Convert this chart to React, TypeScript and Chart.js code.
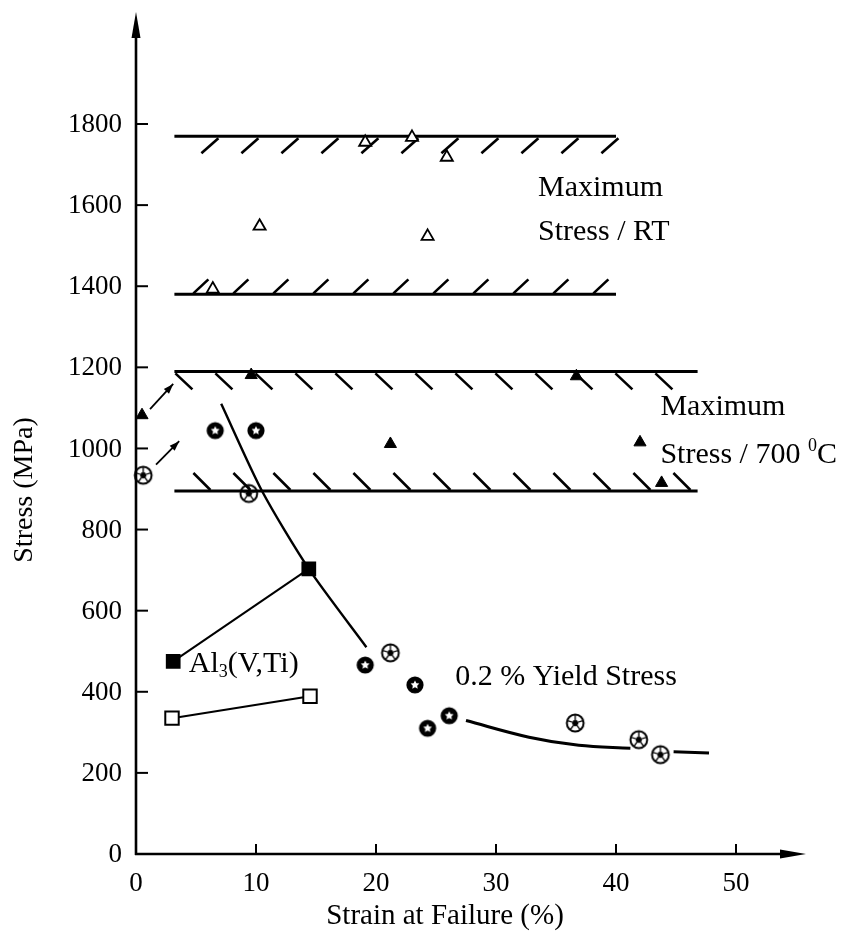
import React, { useEffect, useRef } from "react";
import { Chart, registerables } from "chart.js";
Chart.register(...registerables);

// ---------- data ----------
const xTickValues = [0, 10, 20, 30, 40, 50];
const yTickValues = [0, 200, 400, 600, 800, 1000, 1200, 1400, 1600, 1800];

// Maximum stress at RT (open triangles)
const rtMaxX = [6.4, 10.3, 19.1, 23.0, 25.9, 24.3];
const rtMaxY = [1393, 1548, 1755, 1767, 1718, 1523];

// Maximum stress at 700 C (filled triangles)
const hotMaxX = [0.5, 9.6, 21.2, 36.7, 42.0, 43.8];
const hotMaxY = [1082, 1181, 1011, 1178, 1015, 915];

// 0.2 % yield stress, bold rings
const yieldRingX = [6.6, 10.0, 19.1, 23.25, 24.3, 26.1];
const yieldRingY = [1044, 1044, 466, 417, 310, 341];

// 0.2 % yield stress, circled stars
const yieldStarX = [0.6, 9.4, 21.2, 36.6, 41.9, 43.7];
const yieldStarY = [934, 889, 496, 323, 282, 245];

// Al3(V,Ti)
const al3FilledX = [3.1, 14.4];
const al3FilledY = [475, 703];
const al3OpenX = [3.0, 14.5];
const al3OpenY = [335, 389];

// yield stress trend curves
const yieldCurveX = [7.1, 10.5, 14.4, 19.2];
const yieldCurveY = [1110, 895, 703, 510];
const yieldTailX = [27.5, 32.75, 36.9, 41.2];
const yieldTailY = [329, 288, 268, 261];
const yieldTail2X = [44.8, 47.75];
const yieldTail2Y = [252, 249];

// scatter bands (hatched boundary lines)
const bandRTY = [1770, 1380];
const bandRTX = [3.2, 40];
const band700Y = [1190, 895];
const band700X = [3.2, 46.8];

// arrows near the y axis
const arrowFromX = [1.17, 1.67];
const arrowFromY = [1097, 960];
const arrowToX = [3.1, 3.6];
const arrowToY = [1159, 1018];

const pts = (xs: number[], ys: number[]) => xs.map((x, i) => ({ x, y: ys[i] }));

const SERIF = '"Liberation Serif", "Times New Roman", serif';

function makeRing(): HTMLCanvasElement {
  const c = document.createElement("canvas");
  c.width = 20; c.height = 20;
  const g = c.getContext("2d")!;
  g.fillStyle = "#000";
  g.beginPath(); g.arc(10, 10, 8.6, 0, Math.PI * 2); g.fill();
  g.fillStyle = "#fff";
  g.beginPath();
  for (let i = 0; i < 10; i++) {
    const r = i % 2 === 0 ? 4.6 : 2.3;
    const a = -Math.PI / 2 + (i * Math.PI) / 5;
    const px = 10 + r * Math.cos(a), py = 10 + r * Math.sin(a);
    if (i === 0) g.moveTo(px, py); else g.lineTo(px, py);
  }
  g.closePath(); g.fill();
  return c;
}

function makeStar(): HTMLCanvasElement {
  const c = document.createElement("canvas");
  c.width = 22; c.height = 22;
  const g = c.getContext("2d")!;
  g.strokeStyle = "#000"; g.fillStyle = "#000";
  g.lineWidth = 2;
  g.beginPath(); g.arc(11, 11, 8.4, 0, Math.PI * 2); g.stroke();
  g.lineWidth = 1.3;
  for (let i = 0; i < 5; i++) {
    const a = -Math.PI / 2 + (i * 2 * Math.PI) / 5;
    g.beginPath(); g.moveTo(11, 11); g.lineTo(11 + 8 * Math.cos(a), 11 + 8 * Math.sin(a)); g.stroke();
  }
  g.beginPath();
  for (let i = 0; i < 5; i++) {
    const a = -Math.PI / 2 + Math.PI / 5 + (i * 2 * Math.PI) / 5;
    const px = 11 + 3.4 * Math.cos(a), py = 11 + 3.4 * Math.sin(a);
    if (i === 0) g.moveTo(px, py); else g.lineTo(px, py);
  }
  g.closePath(); g.fill();
  return c;
}

function arrowHead(ctx: CanvasRenderingContext2D, x0: number, y0: number, x1: number, y1: number, len: number, half: number) {
  const a = Math.atan2(y1 - y0, x1 - x0);
  ctx.beginPath();
  ctx.moveTo(x1, y1);
  ctx.lineTo(x1 - len * Math.cos(a) + half * Math.sin(a), y1 - len * Math.sin(a) - half * Math.cos(a));
  ctx.lineTo(x1 - len * Math.cos(a) - half * Math.sin(a), y1 - len * Math.sin(a) + half * Math.cos(a));
  ctx.closePath();
  ctx.fill();
}

const decor = {
  id: "decor",
  beforeDatasetsDraw(chart: any) {
    const { ctx, scales } = chart;
    const xs = scales.x, ys = scales.y;
    ctx.save();
    ctx.strokeStyle = "#000";
    ctx.lineWidth = 2.6;
    const hatch = (xStartVal: number, xEndVal: number, yVal: number, off: number, dx0: number, dy0: number, dx1: number, dy1: number, endPad: number) => {
      const x0 = xs.getPixelForValue(xStartVal), x1 = xs.getPixelForValue(xEndVal);
      const yp = ys.getPixelForValue(yVal);
      for (let hx = x0 + off; hx <= x1 - endPad; hx += 40) {
        ctx.beginPath();
        ctx.moveTo(hx + dx0, yp + dy0);
        ctx.lineTo(hx + dx1, yp + dy1);
        ctx.stroke();
      }
    };
    // RT band: "/" below top line, "/" above bottom line
    hatch(bandRTX[0], bandRTX[1], bandRTY[0], 44, 0, 2, -17, 17, -6);
    hatch(bandRTX[0], bandRTX[1], bandRTY[1], 19, 0, -1, 15, -15, 15);
    // 700 C band: "\" below top line, "\" above bottom line
    hatch(band700X[0], band700X[1], band700Y[0], 1, 0, 2, 17, 18, 30);
    hatch(band700X[0], band700X[1], band700Y[1], 19, 0, -18, 17, -1, 10);
    ctx.restore();
  },
  afterDraw(chart: any) {
    const { ctx, scales } = chart;
    const xs = scales.x, ys = scales.y;
    const ox = xs.getPixelForValue(0), oy = ys.getPixelForValue(0);
    ctx.save();
    ctx.strokeStyle = "#000";
    ctx.fillStyle = "#000";
    // axes
    ctx.lineWidth = 2.6;
    ctx.beginPath();
    ctx.moveTo(ox, oy + 1); ctx.lineTo(ox, 30);
    ctx.moveTo(ox - 1, oy); ctx.lineTo(790, oy);
    ctx.stroke();
    arrowHead(ctx, ox, 60, ox, 12, 26, 4.5);
    arrowHead(ctx, 760, oy, 806, oy, 26, 4.5);
    // ticks (inward)
    ctx.lineWidth = 2;
    for (const v of yTickValues) {
      if (v === 0) continue;
      const p = ys.getPixelForValue(v);
      ctx.beginPath(); ctx.moveTo(ox, p); ctx.lineTo(ox + 12, p); ctx.stroke();
    }
    for (const v of xTickValues) {
      if (v === 0) continue;
      const p = xs.getPixelForValue(v);
      ctx.beginPath(); ctx.moveTo(p, oy); ctx.lineTo(p, oy - 10); ctx.stroke();
    }
    // tick labels
    ctx.font = `27px ${SERIF}`;
    ctx.textAlign = "right";
    ctx.textBaseline = "middle";
    for (const v of yTickValues) {
      ctx.fillText(String(v), ox - 14, ys.getPixelForValue(v) + 1);
    }
    ctx.textAlign = "center";
    ctx.textBaseline = "top";
    for (const v of xTickValues) {
      ctx.fillText(String(v), xs.getPixelForValue(v), oy + 16);
    }
    // axis titles
    ctx.font = `29px ${SERIF}`;
    ctx.textBaseline = "middle";
    ctx.fillText("Strain at Failure (%)", 445, 916);
    ctx.save();
    ctx.translate(25, 490);
    ctx.rotate(-Math.PI / 2);
    ctx.font = `28px ${SERIF}`;
    ctx.fillText("Stress (MPa)", 0, 0);
    ctx.restore();

    // arrows near y axis
    ctx.lineWidth = 1.8;
    for (let i = 0; i < arrowFromX.length; i++) {
      const ax0 = xs.getPixelForValue(arrowFromX[i]), ay0 = ys.getPixelForValue(arrowFromY[i]);
      const ax1 = xs.getPixelForValue(arrowToX[i]), ay1 = ys.getPixelForValue(arrowToY[i]);
      ctx.beginPath(); ctx.moveTo(ax0, ay0); ctx.lineTo(ax1, ay1); ctx.stroke();
      arrowHead(ctx, ax0, ay0, ax1, ay1, 10, 3.5);
    }

    // annotations
    const F = 30;
    ctx.font = `${F}px ${SERIF}`;
    ctx.textAlign = "left";
    ctx.textBaseline = "middle";
    const at = (xv: number, yv: number) => [xs.getPixelForValue(xv), ys.getPixelForValue(yv)];
    let [tx, ty] = at(33.5, 1642);
    ctx.fillText("Maximum", tx, ty);
    [tx, ty] = at(33.5, 1534);
    ctx.fillText("Stress / RT", tx, ty);
    [tx, ty] = at(43.7, 1103);
    ctx.fillText("Maximum", tx, ty);
    [tx, ty] = at(43.7, 984);
    const s1 = "Stress / 700 ";
    ctx.fillText(s1, tx, ty);
    let w = ctx.measureText(s1).width;
    ctx.font = `${F * 0.6}px ${SERIF}`;
    ctx.fillText("0", tx + w, ty - 9);
    const w0 = ctx.measureText("0").width;
    ctx.font = `${F}px ${SERIF}`;
    ctx.fillText("C", tx + w + w0, ty);
    [tx, ty] = at(4.4, 468);
    ctx.fillText("Al", tx, ty);
    w = ctx.measureText("Al").width;
    ctx.font = `${F * 0.6}px ${SERIF}`;
    ctx.fillText("3", tx + w, ty + 8);
    const w3 = ctx.measureText("3").width;
    ctx.font = `${F}px ${SERIF}`;
    ctx.fillText("(V,Ti)", tx + w + w3, ty);
    [tx, ty] = at(26.6, 437);
    ctx.fillText("0.2 % Yield Stress", tx, ty);
    ctx.restore();
  },
};

export default function App() {
  const ref = useRef<HTMLCanvasElement>(null);
  useEffect(() => {
    if (!ref.current) return;
    const ring = makeRing();
    const star = makeStar();
    const lineDs = (xs: number[], ys: number[], width: number, tension = 0) => ({
      data: pts(xs, ys),
      showLine: true,
      borderColor: "#000",
      borderWidth: width,
      pointRadius: 0,
      tension,
      fill: false,
    });
    const chart = new Chart(ref.current, {
      type: "scatter",
      data: {
        datasets: [
          { data: pts(yieldRingX, yieldRingY), pointStyle: ring, pointRadius: 10 } as any,
          { data: pts(yieldStarX, yieldStarY), pointStyle: star, pointRadius: 11 } as any,
          { data: pts(rtMaxX, rtMaxY), pointStyle: "triangle", pointRadius: 7, backgroundColor: "#fff", borderColor: "#000", borderWidth: 1.8 },
          { data: pts(hotMaxX, hotMaxY), pointStyle: "triangle", pointRadius: 7, backgroundColor: "#000", borderColor: "#000", borderWidth: 1 },
          { data: pts(al3FilledX, al3FilledY), pointStyle: "rect", pointRadius: 9, backgroundColor: "#000", borderColor: "#000", showLine: true, borderWidth: 2 } as any,
          { data: pts(al3OpenX, al3OpenY), pointStyle: "rect", pointRadius: 9.5, backgroundColor: "#fff", borderColor: "#000", borderWidth: 2, showLine: true } as any,
          lineDs(yieldCurveX, yieldCurveY, 2.4, 0.25),
          lineDs(yieldTailX, yieldTailY, 3, 0.35),
          lineDs(yieldTail2X, yieldTail2Y, 3),
          lineDs(bandRTX, [bandRTY[0], bandRTY[0]], 3),
          lineDs(bandRTX, [bandRTY[1], bandRTY[1]], 3),
          lineDs(band700X, [band700Y[0], band700Y[0]], 3),
          lineDs(band700X, [band700Y[1], band700Y[1]], 3),
        ] as any,
      },
      options: {
        animation: false,
        responsive: false,
        devicePixelRatio: 1,
        clip: false as any,
        layout: { padding: { left: 136, right: 47.4, top: 14.5, bottom: 91 } },
        plugins: { legend: { display: false }, tooltip: { enabled: false } },
        scales: {
          x: { type: "linear", min: 0, max: 55.3, display: false },
          y: { type: "linear", min: 0, max: 2070, display: false },
        },
      },
      plugins: [decor],
    });
    return () => chart.destroy();
  }, []);
  return (
    <div style={{ position: "absolute", left: 0, top: 0, width: 847, height: 945, background: "#fff" }}>
      <canvas ref={ref} width={847} height={945} style={{ width: 847, height: 945, display: "block" }} />
    </div>
  );
}
